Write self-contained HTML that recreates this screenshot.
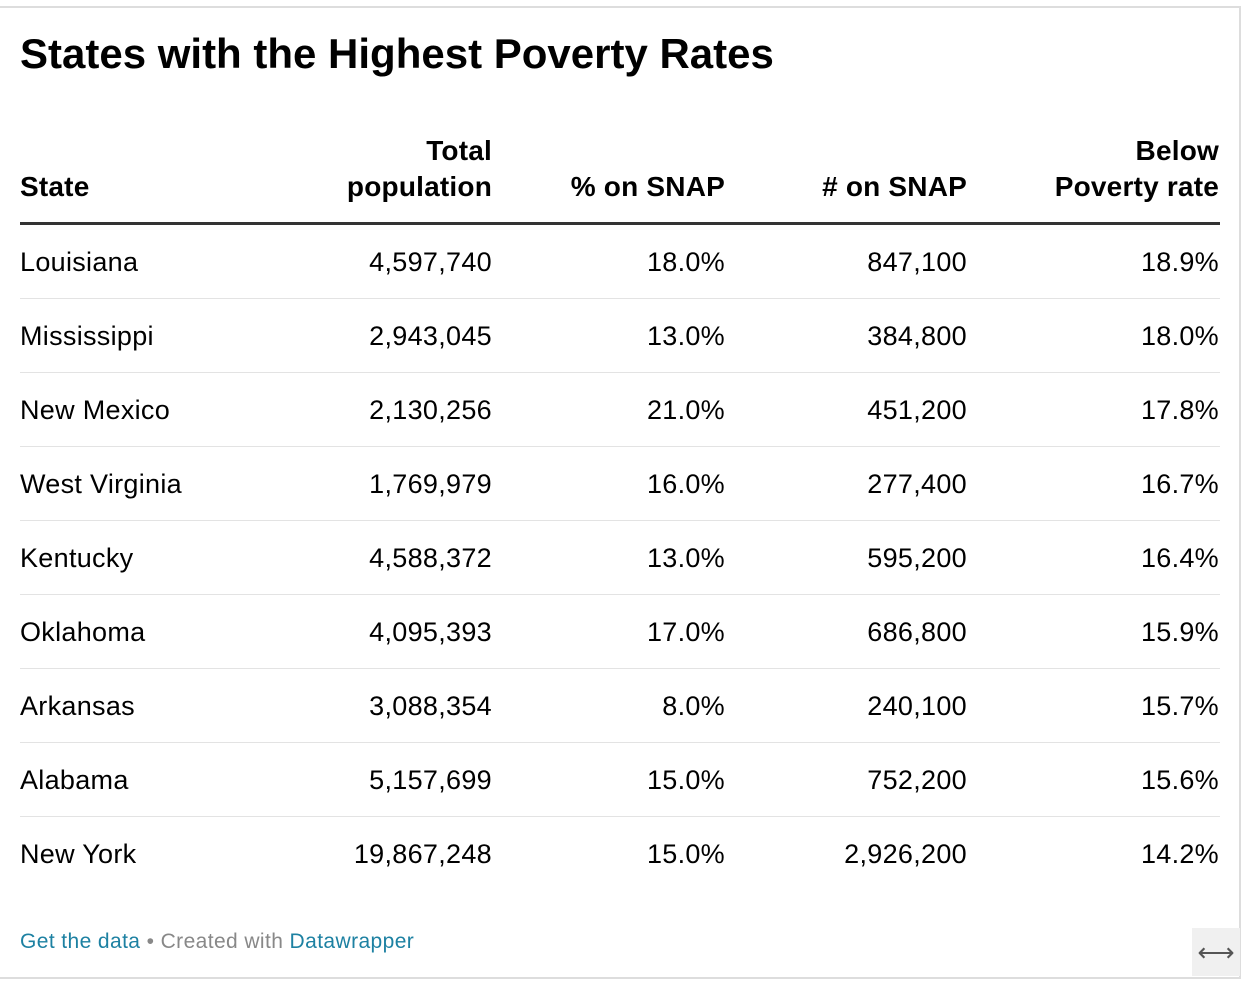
<!DOCTYPE html>
<html><head><meta charset="utf-8"><style>
body{margin:0;width:1246px;height:982px;background:#fff;font-family:"Liberation Sans",sans-serif;position:relative;overflow:hidden;color:#000}
.frame{position:absolute;left:0;top:6px;width:1239px;height:969px;border-top:2px solid #ddd;border-right:2px solid #ddd;border-bottom:2px solid #ddd}
.abs{position:absolute;white-space:nowrap}
h1{position:absolute;left:20px;top:30px;margin:0;font-size:42px;font-weight:bold;letter-spacing:0px}
.hd{font-size:28px;font-weight:bold;line-height:36px;letter-spacing:0.2px}
.cell{font-size:27px;line-height:30px;letter-spacing:0.3px}
.r{text-align:right}
.sep{position:absolute;left:20px;width:1200px;height:1px;background:#e3e3e3}
.foot{font-size:21px;color:#888;letter-spacing:0.4px}
.foot a{color:#1d81a2;text-decoration:none}
.icon{position:absolute;left:1192px;top:928px;width:48px;height:48px;background:#f0f0f0;color:#555;font-size:26px;text-align:center;line-height:48px}
</style></head><body>
<div class="frame"></div>
<h1>States with the Highest Poverty Rates</h1>
<div class="abs hd" style="left:20px;top:169px">State</div>
<div class="abs hd r" style="right:754px;top:133px">Total<br>population</div>
<div class="abs hd r" style="right:521px;top:169px">% on SNAP</div>
<div class="abs hd r" style="right:279px;top:169px"># on SNAP</div>
<div class="abs hd r" style="right:27px;top:133px">Below<br>Poverty rate</div>
<div class="abs" style="left:20px;top:222px;width:1200px;height:3px;background:#333"></div>
<div id="rows"></div>
<div class="abs foot" style="left:20px;top:930px"><a href="#">Get the data</a> • Created with <a href="#">Datawrapper</a></div>
<div class="icon">⟷</div>
<script>
const states=["Louisiana","Mississippi","New Mexico","West Virginia","Kentucky","Oklahoma","Arkansas","Alabama","New York"];
const population=["4,597,740","2,943,045","2,130,256","1,769,979","4,588,372","4,095,393","3,088,354","5,157,699","19,867,248"];
const pctSnap=["18.0%","13.0%","21.0%","16.0%","13.0%","17.0%","8.0%","15.0%","15.0%"];
const numSnap=["847,100","384,800","451,200","277,400","595,200","686,800","240,100","752,200","2,926,200"];
const poverty=["18.9%","18.0%","17.8%","16.7%","16.4%","15.9%","15.7%","15.6%","14.2%"];
const rights=[754,521,279,27];
const cont=document.getElementById('rows');
states.forEach((s,i)=>{
  const cy=262+i*74;
  const a=document.createElement('div');a.className='abs cell';a.style.left='20px';a.style.top=(cy-15)+'px';a.textContent=s;
  
  
  cont.appendChild(a);
  [population[i],pctSnap[i],numSnap[i],poverty[i]].forEach((v,j)=>{
    const c=document.createElement('div');c.className='abs cell r';c.style.right=rights[j]+'px';c.style.top=(cy-15)+'px';c.textContent=v;
    
    
    cont.appendChild(c);
  });
  if(i<states.length-1){
    const l=document.createElement('div');l.className='sep';l.style.top=(cy+36)+'px';
    
    
    cont.appendChild(l);
  }
});
</script>
</body></html>
